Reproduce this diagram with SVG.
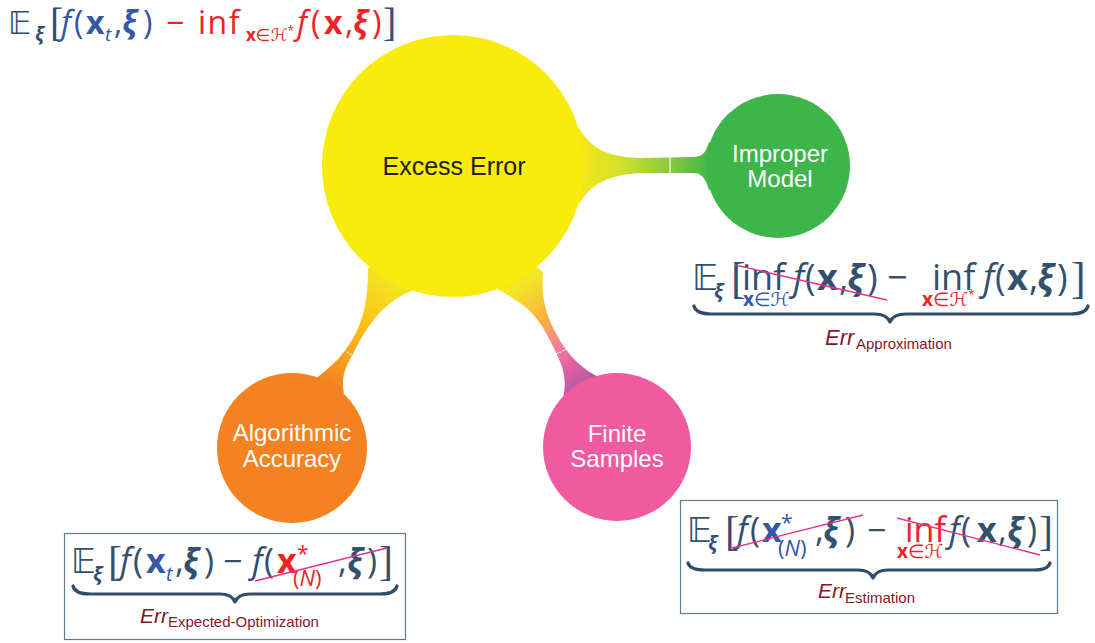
<svg xmlns="http://www.w3.org/2000/svg" width="1095" height="643" viewBox="0 0 1095 643">
  <style>
    .lbl { font-family: "Liberation Sans", Arial, sans-serif; text-anchor: middle; }
    .mt { font-family: "Open Sans", "DejaVu Sans", sans-serif; }
    .bb { font-family: "DejaVu Sans", "DejaVu Serif", sans-serif; }
    .br { font-family: "Liberation Serif", serif; }
    .cal { font-family: "DejaVu Sans", sans-serif; font-style: italic; }
    .it { font-style: italic; }
    .bf { font-weight: bold; }
    .bi { font-weight: bold; font-style: italic; }
    .inf { letter-spacing: 1.5px; }
    .sl { fill: #33506e; }
    .bl { fill: #3557a6; }
    .rd { fill: #ee2326; }
    .err { font-family: "Liberation Sans", Arial, sans-serif; fill: #84192b; }
    .strike { stroke: #e8318c; stroke-width: 1.3; fill: none; }
    .brace { stroke: #2f4d6b; stroke-width: 3.2; fill: none; stroke-linecap: round; stroke-linejoin: round; }
    .box { fill: none; stroke: #5b7b92; stroke-width: 1.2; }
    .tick { stroke: #ffffff; stroke-width: 1.2; fill: none; }
  </style>
  <defs>
    <linearGradient id="gGreen" gradientUnits="userSpaceOnUse" x1="582" y1="0" x2="712" y2="0">
      <stop offset="0" stop-color="#f3e71a"/>
      <stop offset="0.3" stop-color="#d2e12a"/>
      <stop offset="0.65" stop-color="#8ccb3f"/>
      <stop offset="1" stop-color="#3db54b"/>
    </linearGradient>
    <linearGradient id="gOrange" gradientUnits="userSpaceOnUse" x1="395" y1="280" x2="330" y2="385">
      <stop offset="0" stop-color="#f2e622"/>
      <stop offset="0.4" stop-color="#fcc416"/>
      <stop offset="0.75" stop-color="#f8a01d"/>
      <stop offset="1" stop-color="#f48221"/>
    </linearGradient>
    <linearGradient id="gPink" gradientUnits="userSpaceOnUse" x1="520" y1="285" x2="585" y2="385">
      <stop offset="0" stop-color="#f1e724"/>
      <stop offset="0.35" stop-color="#fbb040"/>
      <stop offset="0.62" stop-color="#f07c9e"/>
      <stop offset="0.78" stop-color="#e860a4"/>
      <stop offset="1" stop-color="#b35ca0"/>
    </linearGradient>
  </defs>

  <!-- branches between the central node and its three causes -->
  <g id="connectors">
    <path fill="url(#gGreen)" d="M 560,140 L 579,128 C 590,147 605,157 640,158 L 695,157 C 703,156 706,152 709,142 L 725,150 L 725,182 L 709,190 C 706,180 703,174 695,173 L 640,173 C 605,175 590,186 579,204 L 560,192 Z"/>
    <line class="tick" x1="670" y1="156" x2="670" y2="174"/>
    <path fill="url(#gOrange)" d="M 380,260 L 368,268 C 368,290 366,318 352,340 C 345,352 334,366 312,381 L 330,400 L 344,393 C 341,380 344,368 353,354 C 362,336 372,318 388,305 C 396,298 404,294 414,290 Z"/>
    <line class="tick" x1="341" y1="348" x2="353" y2="356" stroke-dasharray="2 1.5"/>
    <path fill="url(#gPink)" d="M 530,262 L 543,272 C 541,295 545,315 558,337 C 567,353 580,369 603,379 L 600,400 L 562,402 C 567,385 565,370 557,355 C 548,335 538,315 520,303 C 512,298 505,293 497,289 Z"/>
    <line class="tick" x1="556" y1="354" x2="569" y2="348" stroke-dasharray="2 1.5"/>
  </g>

  <g id="node-excess-error">
    <circle cx="453" cy="166" r="131" fill="#f9ec0d"/>
    <text class="lbl" x="454" y="175" font-size="25" fill="#231f20">Excess Error</text>
  </g>
  <g id="node-improper-model">
    <circle cx="778" cy="166" r="72" fill="#3eb54b"/>
    <text class="lbl" x="780" y="162" font-size="24" fill="#ffffff">Improper</text>
    <text class="lbl" x="780" y="187" font-size="24" fill="#ffffff">Model</text>
  </g>
  <g id="node-algorithmic-accuracy">
    <circle cx="292" cy="448" r="75" fill="#f48221"/>
    <text class="lbl" x="292" y="441" font-size="24" fill="#ffffff">Algorithmic</text>
    <text class="lbl" x="292" y="467" font-size="24" fill="#ffffff">Accuracy</text>
  </g>
  <g id="node-finite-samples">
    <circle cx="617" cy="447" r="74" fill="#ef5aa1"/>
    <text class="lbl" x="617" y="442" font-size="24" fill="#ffffff">Finite</text>
    <text class="lbl" x="617" y="467" font-size="24" fill="#ffffff">Samples</text>
  </g>

  <!-- excess error definition -->
  <g id="formula-excess" class="mt" font-size="32">
    <text class="bb sl" x="8" y="34">𝔼</text>
    <text class="sl bi" x="35" y="41" font-size="19">ξ</text>
    <text class="br sl" x="50" y="36" font-size="40">[</text>
    <text class="bl it" x="61" y="34">f</text>
    <text class="bl" x="74" y="34">(</text>
    <text class="bl bf" x="86" y="34">x</text>
    <text class="bl it" x="105" y="41" font-size="19">t</text>
    <text class="bl" x="114" y="34">,</text>
    <text class="bl bi" x="122" y="34">ξ</text>
    <text class="bl" x="143" y="34">)</text>
    <text class="rd" x="166" y="34">−</text>
    <text class="rd inf" x="198" y="34">inf</text>
    <text class="rd" x="246" y="41" font-size="17"><tspan class="bf">x</tspan>∈<tspan class="cal">ℋ</tspan><tspan font-size="12" dy="-6">*</tspan></text>
    <text class="rd it" x="297" y="34">f</text>
    <text class="rd" x="311" y="34">(</text>
    <text class="rd bf" x="324" y="34">x</text>
    <text class="rd" x="345" y="34">,</text>
    <text class="rd bi" x="353" y="34">ξ</text>
    <text class="rd" x="372" y="34">)</text>
    <text class="br sl" x="383" y="36" font-size="40">]</text>
  </g>

  <!-- approximation error -->
  <g id="formula-approximation" class="mt" font-size="36">
    <text class="bb sl" x="692" y="290">𝔼</text>
    <text class="sl bi" x="714" y="298" font-size="20">ξ</text>
    <text class="br sl" x="731" y="293" font-size="44">[</text>
    <text class="sl" x="742" y="290">inf</text>
    <text class="bl" x="743" y="306" font-size="19"><tspan class="bf">x</tspan>∈<tspan class="cal">ℋ</tspan></text>
    <text class="sl it" x="793" y="290">f</text>
    <text class="sl" x="805" y="290">(</text>
    <text class="sl bf" x="817" y="290">x</text>
    <text class="sl" x="839" y="290">,</text>
    <text class="sl bi" x="847" y="290">ξ</text>
    <text class="sl" x="867" y="290">)</text>
    <text class="sl" x="887" y="290">−</text>
    <text class="sl" x="932" y="290">inf</text>
    <text class="rd" x="922" y="306" font-size="19"><tspan class="bf">x</tspan>∈<tspan class="cal">ℋ</tspan><tspan font-size="12" dy="-7">*</tspan></text>
    <text class="sl it" x="983" y="290">f</text>
    <text class="sl" x="995" y="290">(</text>
    <text class="sl bf" x="1007" y="290">x</text>
    <text class="sl" x="1029" y="290">,</text>
    <text class="sl bi" x="1037" y="290">ξ</text>
    <text class="sl" x="1057" y="290">)</text>
    <text class="br sl" x="1071" y="293" font-size="44">]</text>
    <line class="strike" x1="735" y1="265" x2="887" y2="300"/>
    <path class="brace" d="M 694,306 Q 696,314 712,314 L 874,314 Q 887,314 890,322 Q 893,314 906,314 L 1070,314 Q 1086,314 1088,306"/>
    <text class="err" x="825" y="345" font-size="22" font-style="italic">Err</text>
    <text class="err" x="856" y="349" font-size="15">Approximation</text>
  </g>

  <!-- expected optimization error -->
  <g id="formula-optimization" class="mt" font-size="34">
    <rect class="box" x="64.5" y="533.5" width="341" height="106"/>
    <text class="bb sl" x="71" y="573">𝔼</text>
    <text class="sl bi" x="93" y="581" font-size="20">ξ</text>
    <text class="br sl" x="108" y="575" font-size="42">[</text>
    <text class="sl it" x="120" y="573">f</text>
    <text class="sl" x="133" y="573">(</text>
    <text class="bl bf" x="146" y="573">x</text>
    <text class="bl it" x="166" y="581" font-size="20">t</text>
    <text class="sl" x="175" y="573">,</text>
    <text class="sl bi" x="183" y="573">ξ</text>
    <text class="sl" x="204" y="573">)</text>
    <text class="sl" x="223" y="573">−</text>
    <text class="sl it" x="252" y="573">f</text>
    <text class="sl" x="264" y="573">(</text>
    <text class="rd bf" x="277" y="573">x</text>
    <text class="rd" x="297" y="561" font-size="21">*</text>
    <text class="rd" x="293" y="586" font-size="22">(<tspan class="it">N</tspan>)</text>
    <text class="sl" x="338" y="573">,</text>
    <text class="sl bi" x="347" y="573">ξ</text>
    <text class="sl" x="367" y="573">)</text>
    <text class="br sl" x="379" y="575" font-size="42">]</text>
    <line class="strike" x1="255" y1="581" x2="387" y2="548"/>
    <path class="brace" d="M 73,586 Q 75,594 90,594 L 220,594 Q 232,594 235,602 Q 238,594 250,594 L 380,594 Q 395,594 397,586"/>
    <text class="err" x="140" y="623" font-size="21" font-style="italic">Err</text>
    <text class="err" x="168" y="627" font-size="15">Expected-Optimization</text>
  </g>

  <!-- estimation error -->
  <g id="formula-estimation" class="mt" font-size="34">
    <rect class="box" x="680.5" y="500.5" width="377" height="113"/>
    <text class="bb sl" x="687" y="542">𝔼</text>
    <text class="sl bi" x="708" y="550" font-size="20">ξ</text>
    <text class="br sl" x="725" y="545" font-size="42">[</text>
    <text class="sl it" x="737" y="542">f</text>
    <text class="sl" x="750" y="542">(</text>
    <text class="bl bf" x="762" y="542">x</text>
    <text class="bl" x="781" y="530" font-size="21">*</text>
    <text class="bl" x="778" y="556" font-size="22">(<tspan class="it">N</tspan>)</text>
    <text class="sl" x="815" y="542">,</text>
    <text class="sl bi" x="823" y="542">ξ</text>
    <text class="sl" x="845" y="542">)</text>
    <text class="sl" x="867" y="542">−</text>
    <text class="rd" x="905" y="542">inf</text>
    <text class="rd" x="897" y="558" font-size="19"><tspan class="bf">x</tspan>∈<tspan class="cal">ℋ</tspan></text>
    <text class="sl it" x="949" y="542">f</text>
    <text class="sl" x="961" y="542">(</text>
    <text class="sl bf" x="977" y="542">x</text>
    <text class="sl" x="998" y="542">,</text>
    <text class="sl bi" x="1007" y="542">ξ</text>
    <text class="sl" x="1027" y="542">)</text>
    <text class="br sl" x="1039" y="545" font-size="42">]</text>
    <line class="strike" x1="732" y1="548" x2="863" y2="515"/>
    <line class="strike" x1="897" y1="518" x2="1040" y2="555"/>
    <path class="brace" d="M 688,563 Q 690,570 705,570 L 858,570 Q 870,570 873,578 Q 876,570 888,570 L 1034,570 Q 1048,570 1050,563"/>
    <text class="err" x="818" y="598" font-size="21" font-style="italic">Err</text>
    <text class="err" x="845" y="603" font-size="15">Estimation</text>
  </g>
</svg>
